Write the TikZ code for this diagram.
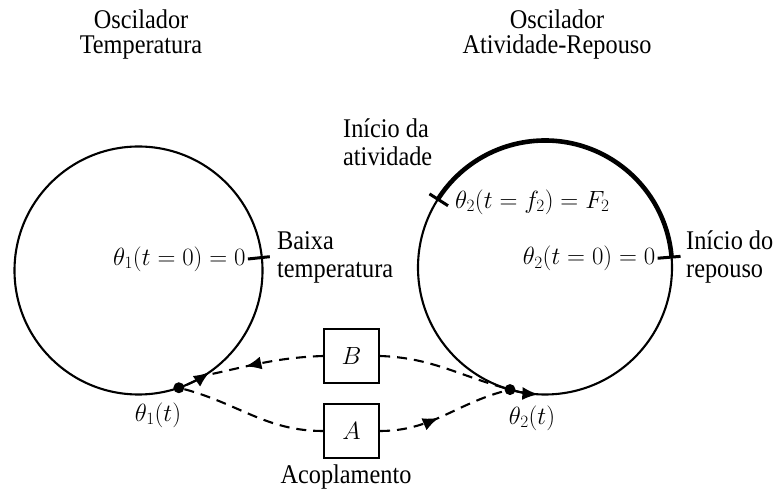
\documentclass[tikz,border=0pt]{standalone}
\usepackage{fontspec}
\setmainfont{Liberation Serif}[FakeStretch=0.9]
\usetikzlibrary{arrows.meta,decorations.markings}
\begin{document}
\begin{tikzpicture}[x=1pt,y=1pt,every node/.style={font=\fontsize{27}{28}\selectfont},
  osc/.style={draw,circle,line width=2.1pt,inner sep=0pt,outer sep=0pt},
  tickmark/.style={line width=3pt},
  mathlbl/.style={font=\fontsize{26}{28}\selectfont},
  dot/.style={circle,fill,inner sep=0pt,minimum size=11pt},
  acbox/.style={draw,line width=2.1pt,minimum width=55pt,minimum height=54pt},
  coupling/.style={line width=2.1pt,dash pattern=on 10pt off 7pt},
  midtip/.style={postaction={decorate},decoration={markings,mark=at position #1 with {\arrow{Latex[length=16pt,width=13pt]}}}}]
\useasboundingbox (0,0) rectangle (776,492);
% Titles
\node[align=center,anchor=north,inner sep=0pt,font=\fontsize{27}{25}\selectfont] (title1) at (141,482) {Oscilador\\Temperatura};
\node[align=center,anchor=north,inner sep=0pt,font=\fontsize{27}{25}\selectfont] (title2) at (557,482) {Oscilador\\Atividade-Repouso};
% Oscillators
\coordinate (c1) at (138.5,221.5);
\coordinate (c2) at (545,224.5);
\node[osc,minimum size=248pt] (osc1) at (c1) {};
\node[osc,minimum size=254pt] (osc2) at (c2) {};
\draw[line width=4.6pt] (osc2.5) arc[start angle=5,end angle=147.5,radius=127];
% Ticks
\draw[tickmark] ([shift={(6:110)}]c1) -- ([shift={(6:132)}]c1);
\draw[tickmark] ([shift={(4.7:113)}]c2) -- ([shift={(4.7:136)}]c2);
\draw[tickmark] ([shift={(147.5:115)}]c2) -- ([shift={(147.5:137)}]c2);
\node[mathlbl,anchor=east,inner sep=2pt] (zero1) at ([shift={(6:110)}]c1) {$\theta_1(t=0)=0$};
\node[mathlbl,anchor=east,inner sep=2pt] (zero2) at ([shift={(4.7:113)}]c2) {$\theta_2(t=0)=0$};
\node[mathlbl,anchor=west,inner sep=0pt] (f2) at (455,290) {$\theta_2(t=f_2)=F_2$};
\node[anchor=west,align=left,inner sep=0pt] (baixa) at (277,235) {Baixa\\temperatura};
\node[anchor=west,align=left,inner sep=0pt] (repouso) at (686,235) {Início do\\repouso};
\node[anchor=west,align=left,inner sep=0pt] (atividade) at (343,350) {Início da\\atividade};
% Phases
\node[dot] (th1) at (osc1.-71.6) {};
\node[dot] (th2) at (osc2.-106.7) {};
\coordinate (in1) at (osc1.-58);
\node[mathlbl] (th1lbl) at (158,77) {$\theta_1(t)$};
\node[mathlbl] (th2lbl) at (532,74) {$\theta_2(t)$};
\draw[line width=2.1pt,-{Latex[length=16pt,width=13pt]}] (osc1.-67) arc[start angle=-67,end angle=-55,radius=124];
\draw[line width=2.1pt,-{Latex[length=16pt,width=13pt]}] (osc2.-105) arc[start angle=-105,end angle=-93,radius=127];
% Coupling
\node[acbox,mathlbl] (acpB) at (351.5,136) {$B$};
\node[acbox,mathlbl] (acpA) at (351.5,61) {$A$};
\node (acopl) at (346,15) {Acoplamento};
\draw[coupling] (th2) to[out=164,in=-2] (acpB.east);
\draw[coupling,midtip=0.65] (acpB.west) to[out=182,in=12] (in1);
\draw[coupling] (th1) to[out=-15,in=180] (acpA.west);
\draw[coupling,midtip=0.46] (acpA.east) to[out=0,in=-165] (th2);
\end{tikzpicture}
\end{document}
